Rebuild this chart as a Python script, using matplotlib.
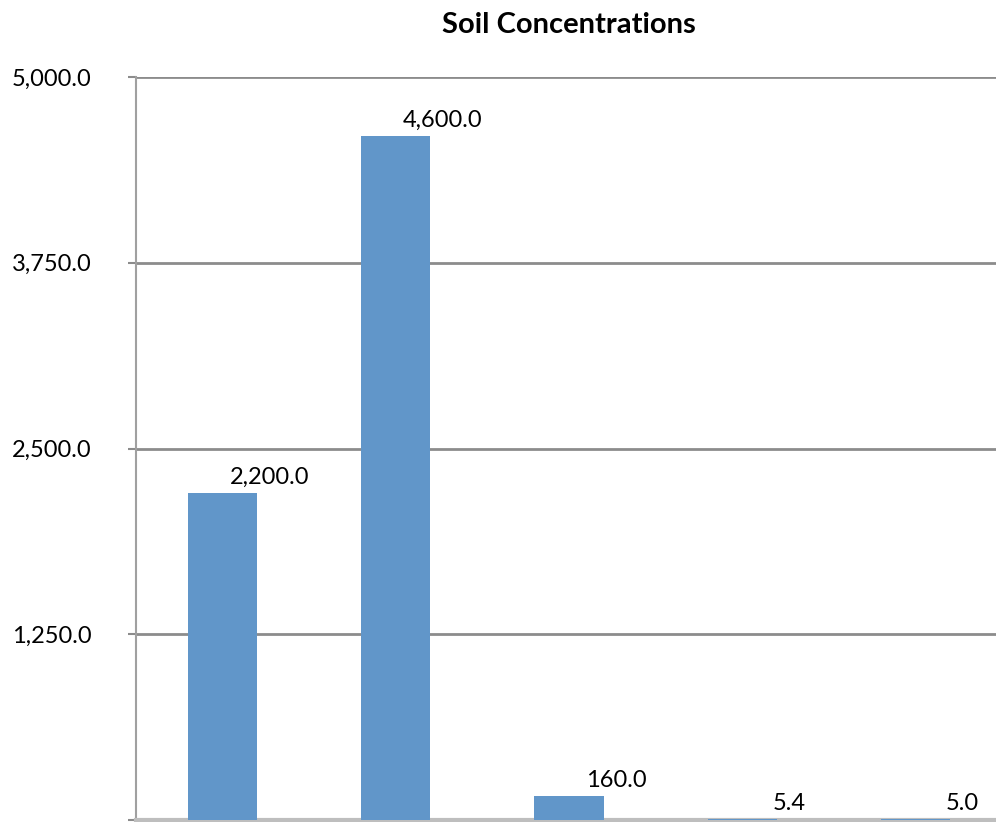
import matplotlib
matplotlib.use("Agg")
import matplotlib.pyplot as plt
from matplotlib.ticker import FuncFormatter

# data
categories = ["A", "B", "C", "D", "E"]
values = [2200.0, 4600.0, 160.0, 5.4, 5.0]
yticks = [0, 1250, 2500, 3750, 5000]

plt.rcParams['font.family'] = ['Lato', 'DejaVu Sans']

fig = plt.figure(figsize=(9.96, 8.22), dpi=100)
ax = fig.add_axes([0.1365, 0.0024, 0.8695, 0.9039])

x = list(range(len(categories)))
ax.bar(x, values, width=0.4, color="#6196C9", zorder=3)

ax.set_xlim(-0.5, len(categories) - 0.5)
ax.set_ylim(0, 5000)
ax.set_yticks(yticks)
# zero label is cut off in the original
ax.yaxis.set_major_formatter(FuncFormatter(lambda v, p: "" if v == 0 else "{:,.1f}".format(v)))
ax.tick_params(axis="y", labelsize=17, length=6, width=1.5, color="#8C8C8C", pad=26)
ax.set_xticks([i - 0.5 for i in range(1, len(categories))])
ax.set_xticklabels([])
ax.tick_params(axis="x", length=8, width=1.5, color="#8C8C8C")

ax.grid(axis="y", color="#8C8C8C", linewidth=2, zorder=0)
for s in ["top", "right"]:
    ax.spines[s].set_visible(False)
ax.spines["left"].set_color("#A0A0A0")
ax.spines["left"].set_linewidth(1.5)
ax.spines["bottom"].set_color("#BEBEBE")
ax.spines["bottom"].set_linewidth(3)

for i, v in enumerate(values):
    ax.annotate("{:,.1f}".format(v), (i, v), xytext=(34, 7), textcoords="offset points",
                ha="center", va="baseline", fontsize=17)

fig.suptitle("Soil Concentrations", x=0.571, y=0.985, fontsize=21, fontweight="bold")

fig.savefig("out.png", dpi=100)
